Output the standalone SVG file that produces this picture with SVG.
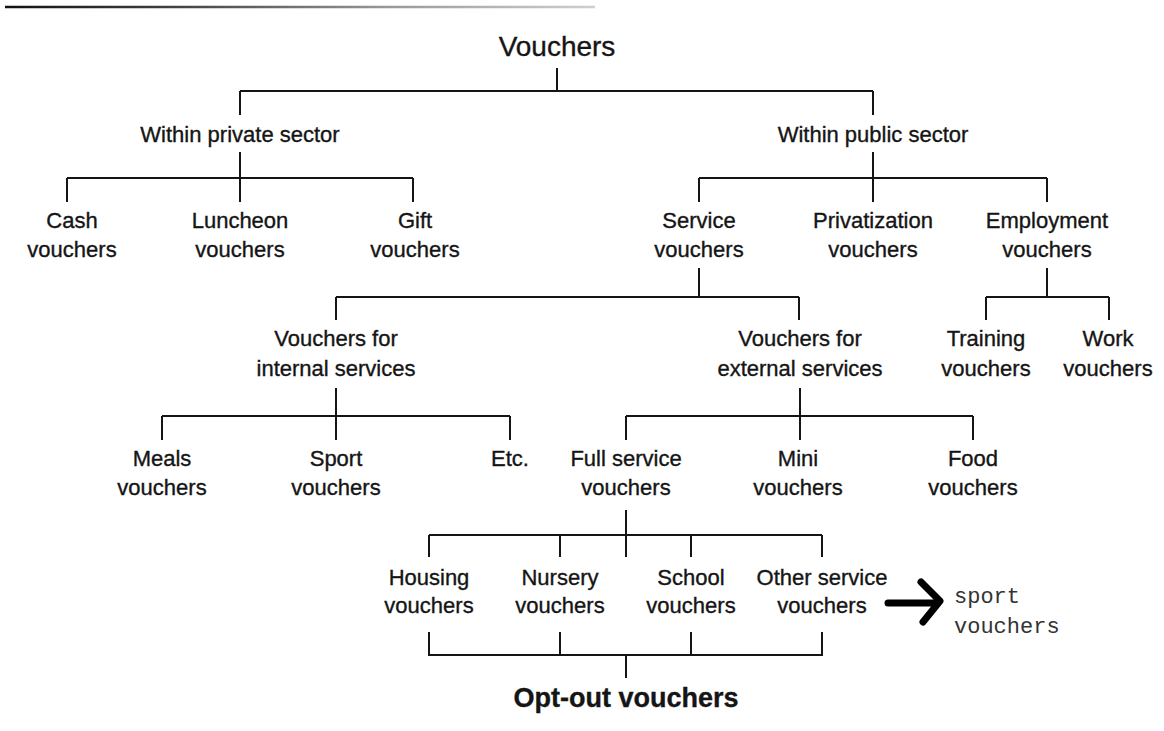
<svg xmlns="http://www.w3.org/2000/svg" width="1164" height="731" viewBox="0 0 1164 731">
  <defs>
    <linearGradient id="rule" gradientUnits="userSpaceOnUse" x1="5" y1="0" x2="595" y2="0">
      <stop offset="0" stop-color="#111"/>
      <stop offset="0.3" stop-color="#444"/>
      <stop offset="0.65" stop-color="#999"/>
      <stop offset="1" stop-color="#cfcfcf"/>
    </linearGradient>
    <style>
      text { font-family: "Liberation Sans", Arial, sans-serif; font-size: 22px; fill: #151515; stroke: #151515; stroke-width: 0.35; text-anchor: middle; }
      .root { font-size: 28px; }
      .bold { font-size: 27px; font-weight: bold; }
      .note { font-family: "Liberation Mono", "DejaVu Sans Mono", monospace; font-size: 22px; fill: #333; stroke: none; text-anchor: start; }
      .wire { fill: none; stroke: #151515; stroke-width: 2; }
    </style>
  </defs>
  <rect width="1164" height="731" fill="#fff"/>

  <!-- header rule -->
  <line x1="5" y1="7" x2="595" y2="7" stroke="url(#rule)" stroke-width="2.5"/>

  <!-- connectors -->
  <g id="connectors" class="wire">
    <path d="M557 68V91M240 91H873M240 91V115M873 91V115"/>
    <path d="M240 152V202M67 178H413M67 178V202M413 178V202"/>
    <path d="M873 152V202M699 178H1047M699 178V202M1047 178V202"/>
    <path d="M699 268V297M336 297H799M336 297V320M799 297V320"/>
    <path d="M1047 268V297M986 297H1109M986 297V320M1109 297V320"/>
    <path d="M336 388V440M162 416H510M162 416V440M510 416V440"/>
    <path d="M800 388V440M626 416H973M626 416V440M973 416V440"/>
    <path d="M626 510V557M429 535H822M429 535V557M560 535V557M691 535V557M822 535V557"/>
    <path d="M429 632V655H822V632M560 632V655M691 632V655M626 655V678"/>
  </g>

  <!-- nodes -->
  <g id="n-vouchers"><text class="root" x="557" y="56">Vouchers</text></g>
  <g id="n-private"><text x="240" y="142">Within private sector</text></g>
  <g id="n-public"><text x="873" y="142">Within public sector</text></g>

  <g id="n-cash"><text x="72" y="228">Cash</text><text x="72" y="257">vouchers</text></g>
  <g id="n-luncheon"><text x="240" y="228">Luncheon</text><text x="240" y="257">vouchers</text></g>
  <g id="n-gift"><text x="415" y="228">Gift</text><text x="415" y="257">vouchers</text></g>

  <g id="n-service"><text x="699" y="228">Service</text><text x="699" y="257">vouchers</text></g>
  <g id="n-privatization"><text x="873" y="228">Privatization</text><text x="873" y="257">vouchers</text></g>
  <g id="n-employment"><text x="1047" y="228">Employment</text><text x="1047" y="257">vouchers</text></g>

  <g id="n-internal"><text x="336" y="346">Vouchers for</text><text x="336" y="376">internal services</text></g>
  <g id="n-external"><text x="800" y="346">Vouchers for</text><text x="800" y="376">external services</text></g>
  <g id="n-training"><text x="986" y="346">Training</text><text x="986" y="376">vouchers</text></g>
  <g id="n-work"><text x="1108" y="346">Work</text><text x="1108" y="376">vouchers</text></g>

  <g id="n-meals"><text x="162" y="466">Meals</text><text x="162" y="495">vouchers</text></g>
  <g id="n-sport"><text x="336" y="466">Sport</text><text x="336" y="495">vouchers</text></g>
  <g id="n-etc"><text x="510" y="466">Etc.</text></g>

  <g id="n-full"><text x="626" y="466">Full service</text><text x="626" y="495">vouchers</text></g>
  <g id="n-mini"><text x="798" y="466">Mini</text><text x="798" y="495">vouchers</text></g>
  <g id="n-food"><text x="973" y="466">Food</text><text x="973" y="495">vouchers</text></g>

  <g id="n-housing"><text x="429" y="585">Housing</text><text x="429" y="613">vouchers</text></g>
  <g id="n-nursery"><text x="560" y="585">Nursery</text><text x="560" y="613">vouchers</text></g>
  <g id="n-school"><text x="691" y="585">School</text><text x="691" y="613">vouchers</text></g>
  <g id="n-other"><text x="822" y="585">Other service</text><text x="822" y="613">vouchers</text></g>

  <g id="n-optout"><text class="bold" x="626" y="707">Opt-out vouchers</text></g>

  <!-- hand-drawn note -->
  <g id="n-note">
    <path d="M888 603H938M921 582L940 601L923 622" fill="none" stroke="#000" stroke-width="7" stroke-linecap="round" stroke-linejoin="round"/>
    <text class="note" x="954" y="603">sport</text>
    <text class="note" x="954" y="633">vouchers</text>
  </g>
</svg>
